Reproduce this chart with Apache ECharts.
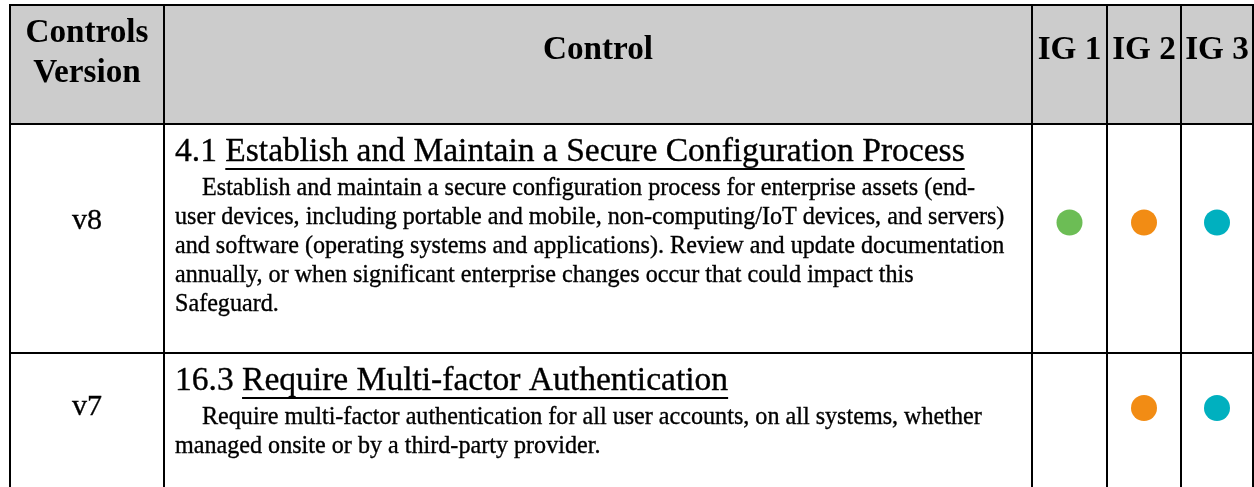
<!DOCTYPE html>
<html><head><meta charset="utf-8">
<script src="https://cdn.jsdelivr.net/npm/echarts@6/dist/echarts.min.js"></script>
<style>html,body{margin:0;padding:0;background:#fff}#c{width:1254px;height:487px}</style>
</head><body><div id="c"></div>
<script>
// ---- data ----
const headerLabels = [['Controls', 'Version'], ['Control'], ['IG 1'], ['IG 2'], ['IG 3']];
const versions = ['v8', 'v7'];
const controlIds = ['4.1', '16.3'];
const controlTitles = ['Establish and Maintain a Secure Configuration Process', 'Require Multi-factor Authentication'];
const controlDescLines = [
  ['Establish and maintain a secure configuration process for enterprise assets (end-',
   'user devices, including portable and mobile, non-computing/IoT devices, and servers)',
   'and software (operating systems and applications). Review and update documentation',
   'annually, or when significant enterprise changes occur that could impact this',
   'Safeguard.'],
  ['Require multi-factor authentication for all user accounts, on all systems, whether',
   'managed onsite or by a third-party provider.']
];
const ig1 = [1, 0];
const ig2 = [1, 1];
const ig3 = [1, 1];
const igColors = ['#6cbd55', '#f28c14', '#00b0bf'];

// ---- layout / style ----
const FONT = 'Liberation Serif';
const colEdges = [10, 164, 1032, 1107, 1181, 1253];
const rowEdges = [5, 124, 353, 500];
const textLeft = 175, indent = 27;
const lineGap = 29, titleOff = 40, bodyOff = 72.5;
const mc = document.createElement('canvas').getContext('2d');
function tw(t, fs, bold) { mc.font = (bold ? 'bold ' : '') + fs + 'px "' + FONT + '"'; return mc.measureText(t).width; }
function fit(t, target, bold) { return 100 * target / tw(t, 100, bold); }
const headFs = fit('Controls', 123, true);
const titleFs = fit('4.1 Establish and Maintain a Secure Configuration Process', 790, false);
const bodyFs = fit(controlDescLines[0][1], 830, false);
const verFs = fit('v8', 30, false);
const K = 0.34;
function font(fs, bold) { return (bold ? 'bold ' : '') + fs.toFixed(2) + 'px "' + FONT + '"'; }
function midY(r) { return rowEdges[r + 1] + (81 + lineGap * (controlDescLines[r].length - 1)) / 2; }

const igFlags = [ig1, ig2, ig3];
const dotData = [];
versions.forEach((v, r) => {
  igFlags.forEach((arr, k) => {
    if (arr[r]) dotData.push({ value: [(colEdges[k + 2] + colEdges[k + 3]) / 2, midY(r)], itemStyle: { color: igColors[k], opacity: 1 } });
  });
});

function txt(api, s, x, baseline, fs, bold, align, thick) {
  const p = api.coord([x, baseline]);
  const style = { text: s, x: p[0], y: p[1] - K * fs, font: font(fs, bold), fill: '#000', align: align || 'left', verticalAlign: 'middle' };
  if (thick) { style.stroke = '#000'; style.lineWidth = thick; }
  return { type: 'text', style };
}

function renderRow(params, api) {
  const r = params.dataIndex;
  const children = [];
  const top = rowEdges[r];
  if (r === 0) {
    const p0 = api.coord([colEdges[0], rowEdges[0]]), p1 = api.coord([colEdges[5], rowEdges[1]]);
    children.push({ type: 'rect', shape: { x: p0[0], y: p0[1], width: p1[0] - p0[0], height: p1[1] - p0[1] }, style: { fill: '#cccccc' } });
    headerLabels.forEach((lines, c) => {
      const cx = (colEdges[c] + colEdges[c + 1]) / 2;
      const bases = lines.length === 1 ? [62] : [45, 85];
      lines.forEach((s, i) => children.push(txt(api, s, cx, bases[i], headFs, true, 'center', 0)));
    });
  } else {
    const d = r - 1;
    const cy = midY(d);
    children.push(txt(api, versions[d], (colEdges[0] + colEdges[1]) / 2, cy + K * verFs - 1, verFs, false, 'center', 0.35));
    const tb = top + titleOff;
    const idStr = controlIds[d] + ' ';
    children.push(txt(api, idStr, textLeft, tb, titleFs, false, 'left', 0.35));
    const tx = textLeft + tw(idStr, titleFs, false);
    children.push(txt(api, controlTitles[d], tx, tb, titleFs, false, 'left', 0.35));
    const tEnd = tx + tw(controlTitles[d], titleFs, false);
    const u0 = api.coord([tx, tb + 4]), u1 = api.coord([tEnd, tb + 6]);
    children.push({ type: 'rect', shape: { x: u0[0], y: u0[1], width: u1[0] - u0[0], height: u1[1] - u0[1] }, style: { fill: '#000' } });
    controlDescLines[d].forEach((s, i) => {
      children.push(txt(api, s, textLeft + (i === 0 ? indent : 0), top + bodyOff + i * lineGap, bodyFs, false, 'left', 0.35));
    });
  }
  return { type: 'group', children };
}

function renderBorders(params, api) {
  const children = [];
  const L = colEdges[0], R = colEdges[colEdges.length - 1], T = rowEdges[0], B = rowEdges[rowEdges.length - 1];
  rowEdges.forEach(y => {
    const a = api.coord([L - 1, y]), b = api.coord([R + 1, y]);
    children.push({ type: 'line', shape: { x1: a[0], y1: a[1], x2: b[0], y2: b[1] }, style: { stroke: '#000', lineWidth: 2 } });
  });
  colEdges.forEach(x => {
    const a = api.coord([x, T - 1]), b = api.coord([x, B + 1]);
    children.push({ type: 'line', shape: { x1: a[0], y1: a[1], x2: b[0], y2: b[1] }, style: { stroke: '#000', lineWidth: 2 } });
  });
  return { type: 'group', children };
}

const chart = echarts.init(document.getElementById('c'), null, { renderer: 'canvas' });
chart.setOption({
  animation: false,
  backgroundColor: '#ffffff',
  grid: { left: 0, right: 0, top: 0, bottom: 0 },
  xAxis: { type: 'value', min: 0, max: 1254, show: false },
  yAxis: { type: 'value', min: 0, max: 487, inverse: true, show: false },
  series: [
    { type: 'custom', renderItem: renderRow, data: [0, 1, 2], z: 1, silent: true },
    { type: 'custom', renderItem: renderBorders, data: [0], z: 3, silent: true },
    { type: 'scatter', data: dotData, symbol: 'circle', symbolSize: 26, z: 2, silent: true, clip: false, itemStyle: { opacity: 1 } }
  ]
});
</script>
</body></html>
